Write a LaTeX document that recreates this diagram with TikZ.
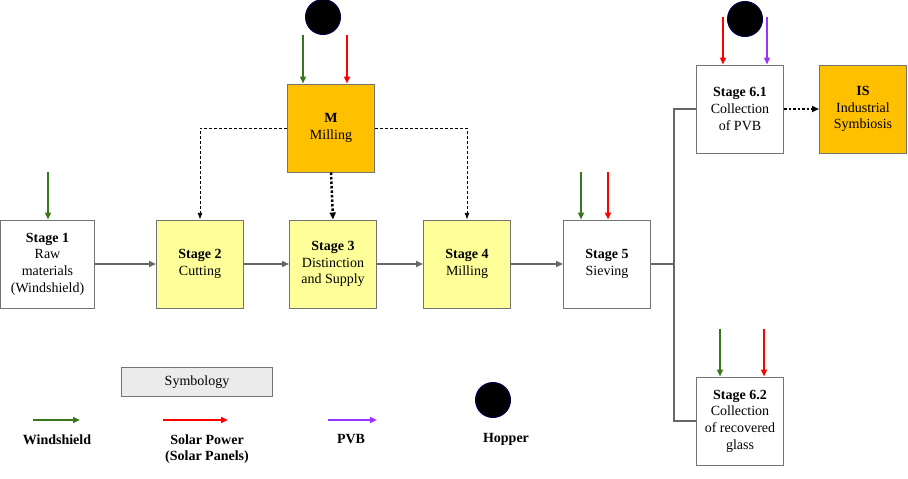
\documentclass[tikz,border=0pt]{standalone}
\usepackage{fontspec}
\setmainfont{Liberation Serif}
\usetikzlibrary{arrows.meta,positioning}
\definecolor{paleyel}{RGB}{255,255,153}
\definecolor{amber}{RGB}{255,192,0}
\definecolor{wgreen}{RGB}{56,118,29}
\definecolor{pvb}{RGB}{153,51,255}
\tikzset{>=Latex}
\tikzset{stage/.style={draw=black!55,line width=1pt,minimum width=87pt,minimum height=88pt,inner sep=1pt,align=center,font=\fontsize{14}{16.7}\selectfont},
  flow/.style={draw=black!60,line width=2pt,-{Triangle[length=7pt,width=6pt]}},
  feed/.style={line width=2pt,-{Triangle[length=7pt,width=6pt]}},
  hopper/.style={circle,fill=black,draw=blue!30!black,line width=1pt,minimum width=35pt,minimum height=34pt,inner sep=0pt},
  legend/.style={font=\fontsize{14}{16.7}\selectfont\bfseries,align=center}}
\begin{document}
\begin{tikzpicture}[x=1pt,y=-1pt]
  \useasboundingbox (0,0) rectangle (908,479);
  % stages
  \node[stage,minimum width=94pt] (s1) at (47.5,264) {\textbf{Stage 1}\\Raw\\materials\\(Windshield)};
  \node[stage,fill=paleyel] (s2) at (200,264) {\textbf{Stage 2}\\Cutting};
  \node[stage,fill=paleyel] (s3) at (333,264) {\textbf{Stage 3}\\Distinction\\and Supply};
  \node[stage,fill=paleyel] (s4) at (467,264) {\textbf{Stage 4}\\Milling};
  \node[stage] (s5) at (607,264) {\textbf{Stage 5}\\Sieving};
  \node[stage,fill=amber] (m) at (331,128) {\textbf{M}\\Milling};
  \node[stage] (s61) at (740,109) {\textbf{Stage 6.1}\\Collection\\of PVB};
  \node[stage,fill=amber] (is) at (863,109) {\textbf{IS}\\Industrial\\Symbiosis};
  \node[stage] (s62) at (740,421) {\textbf{Stage 6.2}\\Collection\\of recovered\\glass};
  \node[hopper] (h1) at (323,17) {};
  \node[hopper] (h2) at (745,19) {};

  % main flow
  \draw[flow] (s1) -- (s2);
  \draw[flow] (s2) -- (s3);
  \draw[flow] (s3) -- (s4);
  \draw[flow] (s4) -- (s5);
  \coordinate (br) at (674,264);
  \draw[draw=black!60,line width=2.5pt] (s5.east) -- (br) |- (s61.west);
  \draw[draw=black!60,line width=2.5pt] (br) |- (s62.west);

  % milling links
  \draw[densely dashed,thick,->] (m.west) -| (s2.north);
  \draw[densely dashed,thick,->] (m.east) -| (s4.north);
  \draw[dotted,line width=2.5pt,-{Triangle[length=7pt,width=6pt]}] (m.south) -- (s3.north);
  \draw[dotted,line width=2.5pt,-{Triangle[length=7pt,width=6pt]}] (s61.east) -- (is.west);

  % inputs
  \coordinate (g1) at (48,172);
  \draw[feed,wgreen] (g1) -- (g1 |- s1.north);
  \coordinate (gm) at (303,35);
  \coordinate (rm) at (347,35);
  \draw[feed,wgreen] (gm) -- (gm |- m.north);
  \draw[feed,red] (rm) -- (rm |- m.north);
  \coordinate (g5) at (581,172);
  \coordinate (r5) at (608,172);
  \draw[feed,wgreen] (g5) -- (g5 |- s5.north);
  \draw[feed,red] (r5) -- (r5 |- s5.north);
  \coordinate (r61) at (723,17);
  \coordinate (p61) at (767,17);
  \draw[feed,red] (r61) -- (r61 |- s61.north);
  \draw[feed,pvb] (p61) -- (p61 |- s61.north);
  \coordinate (g62) at (720,329);
  \coordinate (r62) at (764,329);
  \draw[feed,wgreen] (g62) -- (g62 |- s62.north);
  \draw[feed,red] (r62) -- (r62 |- s62.north);

  % symbology
  \node[draw=black!55,fill=black!8,minimum width=151pt,minimum height=29pt,font=\fontsize{14}{16.7}\selectfont] (sym) at (197,382) {Symbology};
  \coordinate (lg0) at (33,420); \coordinate (lg1) at (80,420);
  \coordinate (lr0) at (163,420); \coordinate (lr1) at (228,420);
  \coordinate (lp0) at (328,420); \coordinate (lp1) at (377,420);
  \draw[feed,wgreen] (lg0) -- (lg1);
  \draw[feed,red] (lr0) -- (lr1);
  \draw[feed,pvb] (lp0) -- (lp1);
  \node[hopper] (lh) at (493,400) {};
  \node[legend] (lgt) at (57,440) {Windshield};
  \node[legend] (lrt) at (207,449) {Solar Power\\(Solar Panels)};
  \node[legend] (lpt) at (351,439) {PVB};
  \node[legend] (lht) at (506,439) {Hopper};
\end{tikzpicture}
\end{document}
